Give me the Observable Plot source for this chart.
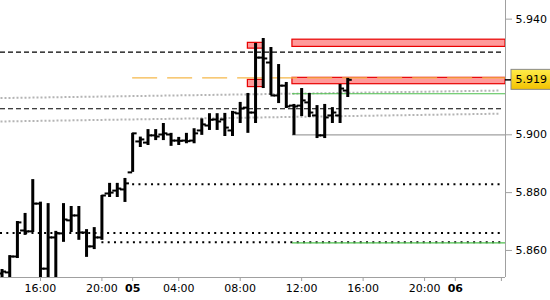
<!DOCTYPE html>
<html><head><meta charset="utf-8">
<script src="https://cdn.jsdelivr.net/npm/d3@7"></script>
<script src="https://cdn.jsdelivr.net/npm/@observablehq/plot@0.6"></script>
<style>body{margin:0;background:#fff;}</style>
</head><body><div id="chart"></div>
<script>
// ---- data (30-minute OHLC bars, "day hh:mm") ----
const barTime = ["04 13:30","04 14:00","04 14:30","04 15:00","04 15:30","04 16:00","04 16:30","04 17:00","04 17:30","04 18:00","04 18:30","04 19:00","04 19:30","04 20:00","04 20:30","04 21:00","04 21:30",
"05 01:00","05 01:30","05 02:00","05 02:30","05 03:00","05 03:30","05 04:00","05 04:30","05 05:00","05 05:30","05 06:00","05 06:30","05 07:00","05 07:30","05 08:00","05 08:30","05 09:00","05 09:30","05 10:00","05 10:30","05 11:00","05 11:30","05 12:00","05 12:30","05 13:00","05 13:30","05 14:00","05 14:30","05 15:00"];
const open  = [5.8520,5.8524,5.8579,5.8669,5.8666,5.8762,5.8537,5.8645,5.8659,5.8704,5.8721,5.8662,5.8614,5.8645,5.8797,5.8807,5.8811,
5.8870,5.8977,5.8973,5.8998,5.9001,5.9001,5.8980,5.8980,5.8980,5.9015,5.9032,5.9053,5.9053,5.9015,5.9074,5.9094,5.9077,5.9267,5.9250,5.9136,5.9170,5.9101,5.9101,5.9112,5.9067,5.8998,5.9067,5.9067,5.9153];
const high  = [5.8534,5.8582,5.8700,5.8728,5.8845,5.8767,5.8762,5.8666,5.8762,5.8752,5.8752,5.8672,5.8679,5.8790,5.8832,5.8832,5.8849,
5.9005,5.8992,5.9018,5.9018,5.9039,5.9005,5.8991,5.9005,5.9021,5.9055,5.9073,5.9073,5.9074,5.9081,5.9112,5.9143,5.9316,5.9333,5.9302,5.9243,5.9181,5.9105,5.9160,5.9143,5.9101,5.9105,5.9094,5.9174,5.9195];
const low   = [5.8500,5.8500,5.8572,5.8652,5.8662,5.8500,5.8500,5.8500,5.8628,5.8662,5.8635,5.8576,5.8603,5.8635,5.8783,5.8783,5.8766,
5.8870,5.8956,5.8963,5.8980,5.8980,5.8960,5.8963,5.8969,5.8969,5.8998,5.9015,5.9015,5.8994,5.8994,5.9039,5.9005,5.9039,5.9160,5.9136,5.9108,5.9091,5.8998,5.9063,5.9060,5.8987,5.8987,5.9039,5.9039,5.9129];
const close = [5.8527,5.8579,5.8697,5.8666,5.8762,5.8537,5.8645,5.8659,5.8707,5.8721,5.8662,5.8614,5.8645,5.8790,5.8800,5.8814,5.8832,
5.9005,5.8984,5.8998,5.8994,5.9005,5.8980,5.8979,5.8978,5.9005,5.9036,5.9052,5.9046,5.9025,5.9077,5.9091,5.9077,5.9267,5.9264,5.9136,5.9170,5.9098,5.9098,5.9119,5.9077,5.8998,5.9060,5.9077,5.9160,5.9190];

const tickTimes  = ["04 16:00","04 20:00","05 01:00","05 04:00","05 08:00","05 12:00","05 16:00","05 20:00","06 01:00","06 04:00"];
const tickLabels = ["16:00","20:00","05","04:00","08:00","12:00","16:00","20:00","06",""];
const boldLabels = ["05","06"];
const yTicks = [5.86, 5.88, 5.90, 5.94];
const lastPrice = 5.919;
const xDomainTimes = ["04 13:24","06 04:16"];
const yDomain = [5.85064, 5.94645];
const lineEndTime = "06 04:08";

const dashedLevels = [5.9286, 5.9090];
const dottedLevels = [5.8829, 5.8660, 5.8628];
const dottedFrom   = ["05 01:00", "04 13:24", "04 20:00"];
const orangeLevel = 5.9197, orangeFrom = "05 01:00";
const greenLevels = [5.9142, 5.8626], greenFrom = "05 11:24";
const grayLevel = 5.9000, grayFrom = "05 11:24";
const trendStart = [5.9127, 5.9046], trendEnd = [5.9153, 5.9073];
const trendFrom = "04 13:24", trendTo = "06 03:56";
const zoneFrom = ["05 11:24","05 11:24","05 08:30","05 08:30"];
const zoneTo   = ["06 04:16","06 04:16","05 09:30","05 09:30"];
const zoneLow  = [5.9304, 5.9175, 5.9298, 5.9165];
const zoneHigh = [5.9329, 5.9197, 5.9318, 5.9190];

// trading-hours position (session 01:00-22:00)
function th(s){ const [d, hm] = s.split(" "); const [h, m] = hm.split(":").map(Number); return (+d - 5) * 21 + h + m / 60 + 5; }

const bars = barTime.map((t, i) => ({t: th(t), o: open[i], h: high[i], l: low[i], c: close[i]}));
const xDom = xDomainTimes.map(th);
const lineEnd = th(lineEndTime);
const zones = zoneFrom.map((f, i) => ({x1: th(f), x2: th(zoneTo[i]), y1: zoneLow[i], y2: zoneHigh[i]}));
const dotted = dottedLevels.map((v, i) => ({v, from: th(dottedFrom[i])}));
const trends = trendStart.map((v, i) => ({y1: v, y2: trendEnd[i]}));
const tickPos = tickTimes.map(th);
const labelOf = new Map(tickPos.map((p, i) => [p, tickLabels[i]]));
const regTicks = tickPos.filter(p => !boldLabels.includes(labelOf.get(p)));
const boldTicks = tickPos.filter(p => boldLabels.includes(labelOf.get(p)));

const axisGray = "#a0a0a0";

const svg = Plot.plot({
  width: 550, height: 300,
  marginLeft: 0, marginRight: 45, marginTop: 0, marginBottom: 23,
  style: {fontFamily: "DejaVu Sans", fontSize: "11px", background: "#fff", color: "#000"},
  x: {domain: xDom},
  y: {domain: yDomain},
  marks: [
    Plot.rect(zones, {x1: "x1", x2: "x2", y1: "y1", y2: "y2", fill: "#ff9a9a", stroke: "#e80000", strokeWidth: 1.2}),
    Plot.link(trends, {x1: () => xDom[0], x2: () => th(trendTo), y1: "y1", y2: "y2", stroke: "#b4b4b4", strokeWidth: 2, strokeDasharray: "2,2"}),
    Plot.ruleY(dashedLevels, {x1: () => xDom[0], x2: () => lineEnd, stroke: "#000", strokeWidth: 1.2, strokeDasharray: "5,3"}),
    Plot.ruleY(dotted, {y: "v", x1: "from", x2: () => lineEnd, stroke: "#000", strokeWidth: 2, strokeDasharray: "2,4.3"}),
    Plot.ruleY([grayLevel], {x1: () => th(grayFrom), x2: () => xDom[1], stroke: "#a0a0a0", strokeWidth: 1.2}),
    Plot.ruleY(greenLevels, {x1: () => th(greenFrom), x2: () => xDom[1], stroke: "#4cbf4c", strokeWidth: 1.2}),
    Plot.ruleY([orangeLevel], {x1: () => th(orangeFrom), x2: () => xDom[1], stroke: "#f5b84a", strokeWidth: 1.3, strokeDasharray: "25,10"}),
    // OHLC bars
    Plot.ruleX(bars, {x: "t", y1: "l", y2: "h", stroke: "#000", strokeWidth: 3, clip: true}),
    Plot.ruleY(bars, {y: "o", x1: "t", x2: "t", insetLeft: -4.5, insetRight: 0, stroke: "#000", strokeWidth: 2, clip: true}),
    Plot.ruleY(bars, {y: "c", x1: "t", x2: "t", insetLeft: 0, insetRight: -4.5, stroke: "#000", strokeWidth: 2, clip: true}),
    // axis lines
    Plot.ruleY([yDomain[0]], {stroke: axisGray}),
    Plot.ruleX([xDom[1]], {stroke: axisGray}),
    Plot.axisX(regTicks, {tickFormat: d => labelOf.get(d), tickSize: 4, tickPadding: 3, stroke: axisGray, label: null}),
    Plot.axisX(boldTicks, {tickFormat: d => labelOf.get(d), tickSize: 4, tickPadding: 3, stroke: axisGray, fontWeight: "bold", label: null}),
    Plot.axisY(yTicks, {anchor: "right", tickFormat: d3.format(".3f"), tickSize: 6, tickPadding: 4, stroke: axisGray, label: null}),
    // last price marker
    Plot.rect([lastPrice], {x1: () => xDom[1], x2: () => xDom[1], y1: d => d, y2: d => d, insetLeft: 6, insetRight: -60, insetTop: -10, insetBottom: -10, fill: "url(#goldGrad)", stroke: "#8a8a8a"}),
    Plot.ruleY([lastPrice], {x1: () => xDom[1], x2: () => xDom[1], insetLeft: 0, insetRight: -6, stroke: "#000", strokeWidth: 1.5}),
    Plot.text([lastPrice], {y: d => d, frameAnchor: "right", dx: 10, textAnchor: "start", text: d => d.toFixed(3), fill: "#000"})
  ]
});

d3.select(svg).insert("defs", ":first-child").html(
  '<linearGradient id="goldGrad" x1="0" y1="0" x2="0" y2="1"><stop offset="0" stop-color="#ffec4a"/><stop offset="1" stop-color="#f3c200"/></linearGradient>');
document.getElementById("chart").appendChild(svg);
</script>
</body></html>
